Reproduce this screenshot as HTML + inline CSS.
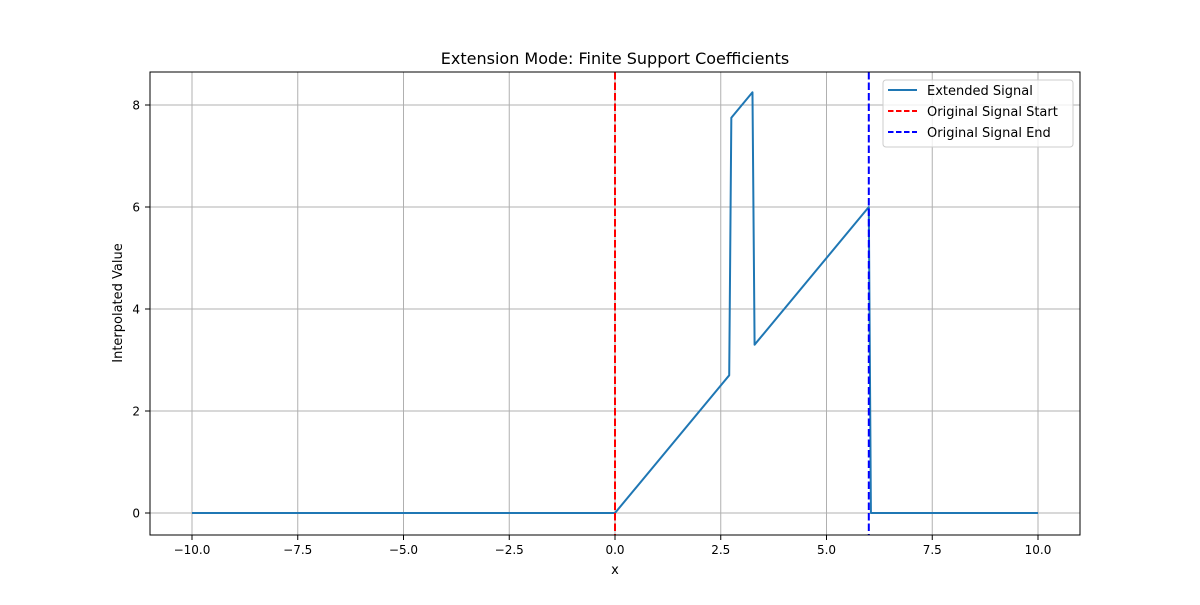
<!DOCTYPE html>
<html><head><meta charset="utf-8"><style>
body{margin:0;background:#fff;}
svg text{font-family:"DejaVu Sans","Liberation Sans",sans-serif;fill:#000;}
</style></head><body>
<svg id="chart" width="1200" height="600" xmlns="http://www.w3.org/2000/svg">
<rect width="1200" height="600" fill="#fff"/>
<g id="grid"></g>
<g id="marks"></g>
<rect x="150" y="72" width="930" height="463" fill="none" stroke="#000" stroke-width="1"/>
<g id="ticks"></g>
<text x="615" y="64" font-size="16" text-anchor="middle">Extension Mode: Finite Support Coefficients</text>
<text x="615" y="574" font-size="13" text-anchor="middle">x</text>
<text x="122" y="303" font-size="13" text-anchor="middle" transform="rotate(-90 122 303)">Interpolated Value</text>
<g>
<rect x="883" y="80" width="190" height="67" rx="3" fill="#fff" fill-opacity="0.8" stroke="#ccc"/>
<line x1="888" y1="90" x2="917" y2="90" stroke="#1f77b4" stroke-width="2"/>
<text x="927" y="95" font-size="13">Extended Signal</text>
<line x1="888" y1="111" x2="917" y2="111" stroke="#ff0000" stroke-width="2" stroke-dasharray="5.5,2.5"/>
<text x="927" y="116" font-size="13">Original Signal Start</text>
<line x1="888" y1="132" x2="917" y2="132" stroke="#0000ff" stroke-width="2" stroke-dasharray="5.5,2.5"/>
<text x="927" y="137" font-size="13">Original Signal End</text>
</g>
</svg>
<script>
const xTicks=[-10,-7.5,-5,-2.5,0,2.5,5,7.5,10];
const xTickLabels=["−10.0","−7.5","−5.0","−2.5","0.0","2.5","5.0","7.5","10.0"];
const yTicks=[0,2,4,6,8];
const yTickLabels=["0","2","4","6","8"];
const signalX=[-10,0,2.7,2.75,3.25,3.3,6,6.05,10];
const signalY=[0,0,2.7,7.75,8.25,3.3,6,0,0];
const startX=0;
const endX=6;
function sx(v){return 615+v*42.3;}
function sy(v){return 513-v*51;}
const NS="http://www.w3.org/2000/svg";
function mk(tag,attrs,parent){const e=document.createElementNS(NS,tag);for(const k in attrs)e.setAttribute(k,attrs[k]);parent.appendChild(e);return e;}
const grid=document.getElementById('grid'),ticks=document.getElementById('ticks'),marks=document.getElementById('marks');
xTicks.forEach((t,i)=>{
 const g=mk('line',{x1:sx(t),x2:sx(t),y1:72,y2:535,stroke:'#b0b0b0','stroke-width':1},grid);
 
 
 const tk=mk('line',{x1:sx(t),x2:sx(t),y1:535,y2:540,stroke:'#000'},ticks);
 
 
 const tx=mk('text',{x:sx(t),y:554,'font-size':12,'text-anchor':'middle'},ticks);
 tx.textContent=xTickLabels[i];
 
 
});
yTicks.forEach((t,i)=>{
 const g=mk('line',{x1:150,x2:1080,y1:sy(t),y2:sy(t),stroke:'#b0b0b0','stroke-width':1},grid);
 
 
 const tk=mk('line',{x1:145,x2:150,y1:sy(t),y2:sy(t),stroke:'#000'},ticks);
 
 
 const tx=mk('text',{x:140,y:sy(t)+4.5,'font-size':12,'text-anchor':'end'},ticks);
 tx.textContent=yTickLabels[i];
 
 
});
const pl=mk('polyline',{points:signalX.map((x,i)=>sx(x)+','+sy(signalY[i])).join(' '),fill:'none',stroke:'#1f77b4','stroke-width':2,'stroke-linejoin':'round'},marks);


const s=mk('line',{x1:sx(startX),x2:sx(startX),y1:72,y2:535,stroke:'#ff0000','stroke-width':2,'stroke-dasharray':'7.5,3'},marks);


const e=mk('line',{x1:sx(endX),x2:sx(endX),y1:72,y2:535,stroke:'#0000ff','stroke-width':2,'stroke-dasharray':'7.5,3'},marks);


</script>
</body></html>
